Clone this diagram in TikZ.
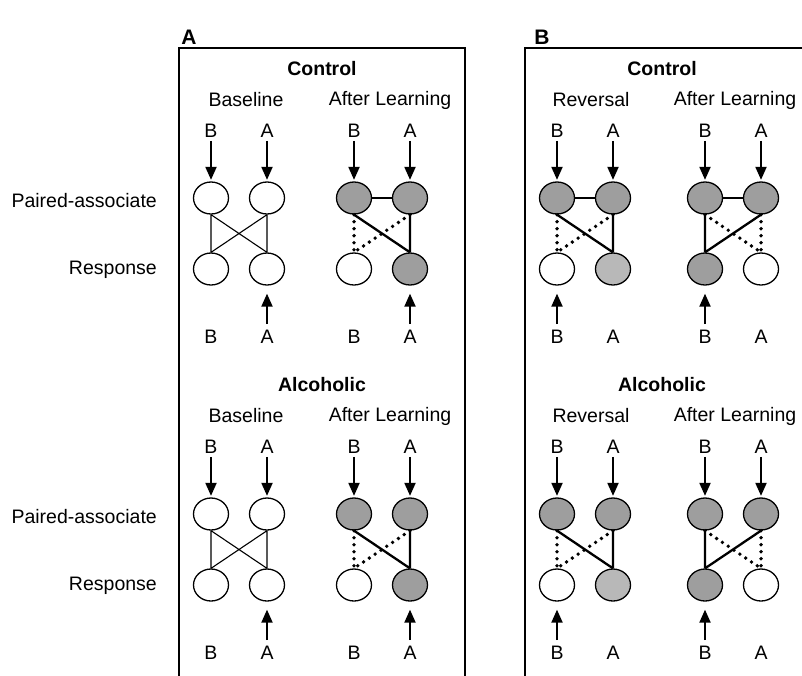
\documentclass[tikz,border=0pt]{standalone}
\usepackage{fontspec}
\setmainfont{Liberation Sans}
\usetikzlibrary{shapes.geometric,arrows.meta}
\definecolor{cellgray}{RGB}{158,158,158}
\definecolor{halfgray}{RGB}{184,184,184}

\begin{document}
\begin{tikzpicture}[
		x=1pt,y=-1pt,
		every node/.style={font=\fontsize{19.5}{23}\selectfont},
		unit/.style={ellipse,draw,line width=1.3pt,minimum width=35pt,minimum height=32pt,inner sep=0pt},
		weak/.style={line width=1.1pt},
		strong/.style={line width=2.3pt},
		faint/.style={line width=3.8pt,dash pattern=on 0pt off 7pt,line cap=round},
		cue/.style={line width=2pt,-{Triangle[width=11pt,length=13pt]}},
		tag/.style={inner sep=3pt},
		head/.style={font=\fontsize{19.5}{23}\selectfont\bfseries},
		panel/.style={font=\fontsize{21}{25}\selectfont\bfseries}
		]
		\useasboundingbox (0,0) rectangle (802,675);
		\clip (0,0) rectangle (802,675);

		% panels
		\node[panel] (panA) at (189,37) {A};
		\node[panel] (panB) at (542,37) {B};
		\draw[line width=1.7pt] (179,680) -- (179,48) -- (465,48) -- (465,680);
		\draw[line width=1.7pt] (525,680) -- (525,48) -- (810,48);

		\node[head] (ctlA) at (322,69) {Control};
		\node[head] (ctlB) at (662,69) {Control};
		\node[head] (alcA) at (322,385) {Alcoholic};
		\node[head] (alcB) at (662,385) {Alcoholic};

		\foreach \y in {0,316}{
			\node (base\y) at (246,100+\y) {Baseline};
			\node (learnA\y) at (390,100+\y) {After Learning};
			\node (rev\y) at (591,100+\y) {Reversal};
			\node (learnB\y) at (735,100+\y) {After Learning};
			\node[anchor=east,inner sep=0pt] (pair\y) at (157,201+\y) {Paired-associate};
			\node[anchor=east,inner sep=0pt] (resp\y) at (157,270+\y) {Response};
		}

		% units, cues
		\foreach \n/\x/\y/\sl/\sr/\rl/\rr/\up in {
			cab/211/198/white/white/white/white/a,
			cal/354/198/cellgray/cellgray/white/cellgray/a,
			cbr/557/198/cellgray/cellgray/white/halfgray/b,
			cbl/705/198/cellgray/cellgray/cellgray/white/b,
			aab/211/514/white/white/white/white/a,
			aal/354/514/cellgray/cellgray/white/cellgray/a,
			abr/557/514/cellgray/cellgray/white/halfgray/b,
			abl/705/514/cellgray/cellgray/cellgray/white/b}{
			\node[unit,fill=\sl] (\n-pb) at (\x,\y) {};
			\node[unit,fill=\sr] (\n-pa) at (\x+56,\y) {};
			\node[unit,fill=\rl] (\n-rb) at (\x,\y+71) {};
			\node[unit,fill=\rr] (\n-ra) at (\x+56,\y+71) {};
			\node[tag] (\n-tb) at (\x,\y-67) {B};
			\node[tag] (\n-ta) at (\x+56,\y-67) {A};
			\node[tag] (\n-ub) at (\x,\y+139) {B};
			\node[tag] (\n-ua) at (\x+56,\y+139) {A};
			\draw[cue,shorten >=1.5pt] (\n-tb) -- (\n-pb);
			\draw[cue,shorten >=1.5pt] (\n-ta) -- (\n-pa);
			\draw[cue,shorten <=3pt,shorten >=8pt] (\n-u\up) -- (\n-r\up);
		}

		% baseline: all links weak
		\foreach \n in {cab,aab}{
			\draw[weak] (\n-pb.south) -- (\n-rb.north) (\n-pa.south) -- (\n-ra.north)
				(\n-pb.south) -- (\n-ra.north) (\n-pa.south) -- (\n-rb.north);
		}
		% A learned / B reversal
		\foreach \n in {cal,aal,cbr,abr}{
			\draw[strong] (\n-pb.south) -- (\n-ra.north) (\n-pa.south) -- (\n-ra.north);
			\draw[faint] (\n-pb.south) -- (\n-rb.north) (\n-pa.south) -- (\n-rb.north);
		}
		% B learned
		\foreach \n in {cbl,abl}{
			\draw[strong] (\n-pb.south) -- (\n-rb.north) (\n-pa.south) -- (\n-rb.north);
			\draw[faint] (\n-pb.south) -- (\n-ra.north) (\n-pa.south) -- (\n-ra.north);
		}
		% control only: paired units linked
		\foreach \n in {cal,cbr,cbl}{
			\draw[strong] (\n-pb.east) -- (\n-pa.west);
		}
	\end{tikzpicture}
\end{document}
